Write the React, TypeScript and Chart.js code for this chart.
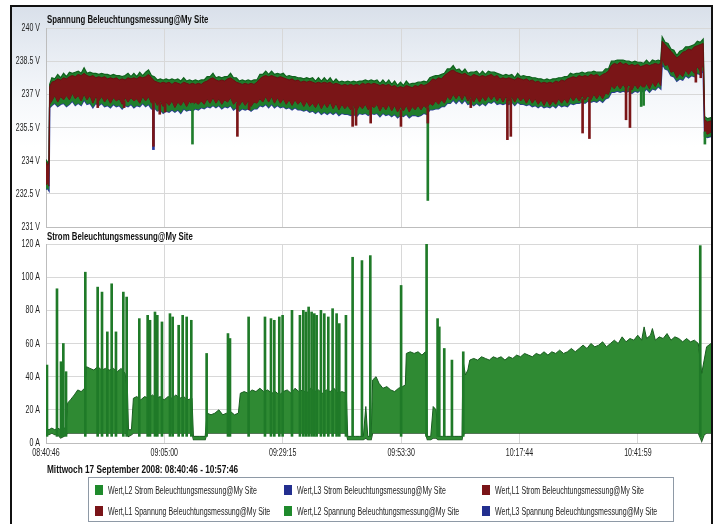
import React, { useEffect, useRef } from "react";
import { Chart, registerables } from "chart.js";

Chart.register(...registerables);

const FONT = "'Liberation Sans', Arial, sans-serif";
const TICK_SQUEEZE = 0.64;
const TICK_SIZE = 11;

// ---- axes ----
const totalMinutes = 136.2; // 08:40:46 .. right edge
const xTickMinutes = [0, 24.233, 48.483, 72.733, 96.967, 121.217];
const xTickLabels = ["08:40:46", "09:05:00", "09:29:15", "09:53:30", "10:17:44", "10:41:59"];
const voltTickValues = [231, 232.5, 234, 235.5, 237, 238.5, 240];
const ampTickValues = [0, 20, 40, 60, 80, 100, 120];

// ---- voltage (V), minutes since 08:40:46 ----
const voltMinutes = [
  0.0, 0.3, 0.6, 0.75, 1.2, 1.8, 2.4, 3.0, 3.6, 4.2,
  4.8, 5.4, 6.0, 6.6, 7.2, 7.8, 8.4, 9.0, 9.6, 10.2,
  10.8, 11.4, 12.0, 12.6, 13.2, 13.8, 14.4, 15.0, 15.6, 16.2,
  16.8, 17.4, 18.0, 18.6, 19.2, 19.8, 20.4, 21.0, 21.6, 22.2,
  22.8, 23.4, 24.0, 24.6, 25.2, 25.8, 26.4, 27.0, 27.6, 28.2,
  28.8, 29.4, 30.0, 30.6, 31.2, 31.8, 32.4, 33.0, 33.6, 34.2,
  34.8, 35.4, 36.0, 36.6, 37.2, 37.8, 38.4, 39.0, 39.6, 40.2,
  40.8, 41.4, 42.0, 42.6, 43.2, 43.8, 44.4, 45.0, 45.6, 46.2,
  46.8, 47.4, 48.0, 48.6, 49.2, 49.8, 50.4, 51.0, 51.6, 52.2,
  52.8, 53.4, 54.0, 54.6, 55.2, 55.8, 56.4, 57.0, 57.6, 58.2,
  58.8, 59.4, 60.0, 60.6, 61.2, 61.8, 62.4, 63.0, 63.6, 64.2,
  64.8, 65.4, 66.0, 66.6, 67.2, 67.8, 68.4, 69.0, 69.6, 70.2,
  70.8, 71.4, 72.0, 72.6, 73.2, 73.8, 74.4, 75.0, 75.6, 76.2,
  76.8, 77.4, 78.0, 78.6, 79.2, 79.8, 80.4, 81.0, 81.6, 82.2,
  82.8, 83.4, 84.0, 84.6, 85.2, 85.8, 86.4, 87.0, 87.6, 88.2,
  88.8, 89.4, 90.0, 90.6, 91.2, 91.8, 92.4, 93.0, 93.6, 94.2,
  94.8, 95.4, 96.0, 96.6, 97.2, 97.8, 98.4, 99.0, 99.6, 100.2,
  100.8, 101.4, 102.0, 102.6, 103.2, 103.8, 104.4, 105.0, 105.6, 106.2,
  106.8, 107.4, 108.0, 108.6, 109.2, 109.8, 110.4, 111.0, 111.6, 112.2,
  112.8, 113.4, 114.0, 114.6, 115.2, 115.8, 116.4, 117.0, 117.6, 118.2,
  118.8, 119.4, 120.0, 120.6, 121.2, 121.8, 122.4, 123.0, 123.6, 124.2,
  124.8, 125.4, 125.9, 126.2, 126.8, 127.4, 128.0, 128.6, 129.2, 129.8,
  130.4, 131.0, 131.6, 132.2, 132.8, 133.4, 134.0, 134.6, 134.9, 135.5,
  136.2,
];
const voltL2Max = [
  234.05, 233.9, 234.0, 237.45, 237.75, 237.7, 237.9, 237.75, 237.95, 237.8,
  238.0, 237.95, 238.0, 238.05, 237.95, 238.2, 237.95, 238.0, 237.95, 237.95,
  237.9, 237.95, 237.9, 237.9, 237.85, 237.9, 237.85, 237.85, 237.8, 237.85,
  237.95, 237.8, 237.95, 237.8, 238.0, 237.85, 238.0, 238.1, 237.85, 237.8,
  237.65, 237.7, 237.65, 237.7, 237.65, 237.7, 237.65, 237.7, 237.6, 237.75,
  237.6, 237.65, 237.6, 237.65, 237.6, 237.65, 237.65, 237.8, 237.8, 237.95,
  237.75, 237.8, 237.75, 237.8, 237.8, 237.95, 237.75, 237.75, 237.6, 237.65,
  237.6, 237.65, 237.6, 237.65, 237.65, 237.9, 237.9, 238.05, 237.9, 238.05,
  237.9, 237.95, 237.9, 237.95, 237.8, 237.85, 237.8, 237.8, 237.75, 237.75,
  237.7, 237.75, 237.7, 237.75, 237.6, 237.75, 237.6, 237.75, 237.6, 237.75,
  237.55, 237.7, 237.55, 237.6, 237.55, 237.6, 237.55, 237.6, 237.55, 237.6,
  237.6, 237.65, 237.6, 237.65, 237.6, 237.65, 237.5, 237.65, 237.5, 237.65,
  237.45, 237.6, 237.4, 237.55, 237.4, 237.6, 237.45, 237.5, 237.5, 237.55,
  237.55, 237.6, 237.55, 237.75, 237.8, 237.85, 237.85, 237.9, 237.95, 238.15,
  238.15, 238.3, 238.1, 238.15, 238.0, 238.15, 237.95, 238.0, 238.0, 238.05,
  237.9, 238.05, 237.9, 238.05, 238.0, 238.0, 237.95, 237.9, 237.85, 237.9,
  237.85, 237.9, 237.75, 237.95, 237.8, 237.85, 237.8, 237.8, 237.75, 237.75,
  237.7, 237.7, 237.65, 237.7, 237.65, 237.7, 237.7, 237.75, 237.75, 237.8,
  237.8, 237.95, 237.9, 237.95, 237.95, 238.0, 237.95, 238.0, 238.0, 238.05,
  238.0, 238.0, 238.0, 238.15, 238.15, 238.5, 238.5, 238.55, 238.55, 238.55,
  238.5, 238.5, 238.45, 238.5, 238.45, 238.45, 238.4, 238.55, 238.4, 238.55,
  238.5, 238.55, 238.5, 239.6, 239.35, 239.3, 239.05, 239.0, 238.75, 238.95,
  239.0, 239.15, 239.15, 239.2, 239.25, 239.4, 239.35, 239.5, 236.0, 235.9,
  235.95,
];
const voltL1Max = [
  233.95, 233.8, 233.9, 237.35, 237.55, 237.6, 237.7, 237.65, 237.75, 237.7,
  237.8, 237.85, 237.8, 237.9, 237.85, 237.95, 237.85, 237.8, 237.85, 237.75,
  237.8, 237.75, 237.8, 237.7, 237.75, 237.7, 237.75, 237.65, 237.7, 237.65,
  237.75, 237.7, 237.75, 237.7, 237.8, 237.75, 237.8, 237.9, 237.75, 237.6,
  237.55, 237.5, 237.55, 237.5, 237.55, 237.45, 237.55, 237.5, 237.45, 237.55,
  237.5, 237.45, 237.5, 237.45, 237.5, 237.45, 237.55, 237.6, 237.7, 237.75,
  237.65, 237.6, 237.65, 237.6, 237.7, 237.75, 237.65, 237.55, 237.5, 237.45,
  237.5, 237.45, 237.5, 237.45, 237.55, 237.7, 237.8, 237.85, 237.8, 237.85,
  237.8, 237.75, 237.8, 237.75, 237.7, 237.65, 237.7, 237.6, 237.65, 237.55,
  237.6, 237.55, 237.6, 237.55, 237.5, 237.55, 237.5, 237.55, 237.5, 237.55,
  237.45, 237.5, 237.45, 237.4, 237.45, 237.4, 237.45, 237.4, 237.45, 237.4,
  237.5, 237.45, 237.5, 237.45, 237.5, 237.45, 237.4, 237.45, 237.4, 237.45,
  237.35, 237.4, 237.3, 237.35, 237.3, 237.4, 237.35, 237.3, 237.4, 237.35,
  237.45, 237.4, 237.45, 237.55, 237.7, 237.65, 237.75, 237.7, 237.85, 237.95,
  238.05, 238.1, 238.0, 237.95, 237.9, 237.95, 237.85, 237.8, 237.9, 237.85,
  237.8, 237.85, 237.8, 237.85, 237.9, 237.8, 237.85, 237.7, 237.75, 237.7,
  237.75, 237.7, 237.65, 237.75, 237.7, 237.65, 237.7, 237.6, 237.65, 237.55,
  237.6, 237.5, 237.55, 237.5, 237.55, 237.5, 237.6, 237.55, 237.65, 237.6,
  237.7, 237.75, 237.8, 237.75, 237.85, 237.8, 237.85, 237.8, 237.9, 237.85,
  237.9, 237.8, 237.9, 237.95, 238.05, 238.3, 238.4, 238.35, 238.45, 238.35,
  238.4, 238.3, 238.35, 238.3, 238.35, 238.25, 238.3, 238.35, 238.3, 238.35,
  238.4, 238.35, 238.4, 239.4, 239.25, 239.1, 238.95, 238.8, 238.65, 238.75,
  238.9, 238.95, 239.05, 239.0, 239.15, 239.2, 239.25, 239.3, 235.85, 235.75,
  235.8,
];
const voltL1Min = [
  232.9, 233.0, 232.85, 236.55, 236.7, 236.95, 236.65, 236.9, 236.75, 236.95,
  236.75, 237.05, 236.8, 236.95, 236.7, 237.0, 236.75, 236.95, 236.6, 236.9,
  236.7, 236.9, 236.65, 236.85, 236.6, 236.85, 236.7, 236.8, 236.55, 236.85,
  236.65, 236.85, 236.7, 236.8, 236.6, 236.9, 236.7, 236.9, 236.6, 236.75,
  236.5, 236.7, 236.45, 236.65, 236.5, 236.7, 236.4, 236.65, 236.5, 236.7,
  236.45, 236.7, 236.5, 236.65, 236.55, 236.7, 236.55, 236.8, 236.6, 236.85,
  236.6, 236.8, 236.55, 236.75, 236.65, 236.85, 236.55, 236.7, 236.5, 236.7,
  236.5, 236.7, 236.45, 236.65, 236.6, 236.8, 236.65, 236.9, 236.65, 236.9,
  236.6, 236.85, 236.6, 236.8, 236.55, 236.75, 236.5, 236.75, 236.55, 236.7,
  236.45, 236.7, 236.45, 236.6, 236.4, 236.65, 236.35, 236.6, 236.4, 236.65,
  236.35, 236.6, 236.3, 236.55, 236.35, 236.5, 236.3, 236.5, 236.25, 236.5,
  236.35, 236.55, 236.3, 236.5, 236.4, 236.55, 236.25, 236.5, 236.3, 236.55,
  236.25, 236.5, 236.2, 236.45, 236.25, 236.5, 236.2, 236.45, 236.3, 236.5,
  236.3, 236.5, 236.35, 236.6, 236.5, 236.7, 236.55, 236.75, 236.6, 236.9,
  236.75, 237.0, 236.8, 237.0, 236.75, 237.0, 236.7, 236.9, 236.65, 236.9,
  236.65, 236.9, 236.7, 236.95, 236.75, 236.95, 236.7, 236.9, 236.65, 236.9,
  236.7, 236.9, 236.65, 236.9, 236.7, 236.85, 236.6, 236.85, 236.6, 236.8,
  236.55, 236.75, 236.5, 236.75, 236.5, 236.7, 236.55, 236.8, 236.6, 236.8,
  236.6, 236.9, 236.7, 236.9, 236.7, 236.95, 236.75, 236.95, 236.75, 237.0,
  236.8, 237.0, 236.8, 237.05, 237.0, 237.4, 237.25, 237.45, 237.25, 237.45,
  237.25, 237.45, 237.2, 237.45, 237.25, 237.45, 237.25, 237.5, 237.25, 237.55,
  237.35, 237.6, 237.4, 238.6, 238.3, 238.35, 238.0, 238.05, 237.75, 237.95,
  237.8, 238.1, 237.9, 238.1, 237.95, 238.25, 238.05, 238.35, 235.3, 235.2,
  235.3,
];
const voltL3Min = [
  232.7, 232.75, 232.65, 236.4, 236.5, 236.6, 236.45, 236.55, 236.6, 236.45,
  236.55, 236.7, 236.5, 236.6, 236.5, 236.75, 236.55, 236.6, 236.4, 236.6,
  236.5, 236.6, 236.45, 236.5, 236.4, 236.55, 236.45, 236.5, 236.35, 236.5,
  236.45, 236.55, 236.4, 236.5, 236.45, 236.6, 236.45, 236.55, 236.35, 236.4,
  236.25, 236.3, 236.15, 236.25, 236.2, 236.3, 236.2, 236.3, 236.15, 236.35,
  236.25, 236.3, 236.25, 236.35, 236.3, 236.4, 236.35, 236.45, 236.4, 236.5,
  236.4, 236.5, 236.35, 236.45, 236.4, 236.5, 236.3, 236.4, 236.25, 236.35,
  236.3, 236.35, 236.25, 236.35, 236.35, 236.5, 236.45, 236.55, 236.4, 236.55,
  236.4, 236.5, 236.4, 236.45, 236.35, 236.4, 236.3, 236.4, 236.3, 236.3,
  236.25, 236.3, 236.2, 236.25, 236.15, 236.25, 236.1, 236.2, 236.1, 236.2,
  236.1, 236.2, 236.05, 236.15, 236.1, 236.1, 236.05, 236.1, 236.0, 236.15,
  236.1, 236.15, 236.05, 236.15, 236.1, 236.15, 236.0, 236.15, 236.05, 236.1,
  236.0, 236.1, 235.95, 236.05, 236.0, 236.1, 235.95, 236.05, 236.05, 236.0,
  236.05, 236.15, 236.1, 236.3, 236.3, 236.35, 236.35, 236.45, 236.45, 236.6,
  236.6, 236.75, 236.6, 236.75, 236.6, 236.75, 236.55, 236.6, 236.5, 236.6,
  236.5, 236.6, 236.5, 236.65, 236.6, 236.7, 236.55, 236.6, 236.55, 236.6,
  236.55, 236.65, 236.5, 236.65, 236.55, 236.55, 236.5, 236.55, 236.45, 236.5,
  236.4, 236.5, 236.4, 236.45, 236.4, 236.5, 236.4, 236.55, 236.45, 236.5,
  236.45, 236.6, 236.55, 236.6, 236.6, 236.65, 236.6, 236.7, 236.65, 236.7,
  236.65, 236.75, 236.65, 236.8, 236.85, 237.1, 237.1, 237.15, 237.1, 237.15,
  237.1, 237.15, 237.05, 237.15, 237.1, 237.2, 237.1, 237.25, 237.1, 237.25,
  237.2, 237.35, 237.25, 238.4, 238.15, 238.1, 237.85, 237.8, 237.6, 237.7,
  237.65, 237.85, 237.75, 237.85, 237.8, 237.95, 237.9, 238.1, 235.1, 235.05,
  235.1,
];

// short voltage dips: time, lowest value, band value, phase (1/2/3)
const voltDipMinutes = [10.6, 16.0, 22.0, 22.0, 23.3, 24.4, 30.0, 39.2, 41.6, 62.8, 63.5, 66.5, 72.7, 78.2, 78.2, 87.0, 94.5, 95.2, 109.9, 111.3, 118.8, 119.6, 121.9, 122.4, 133.1, 134.1, 134.95];
const voltDipLow = [236.4, 236.4, 234.5, 234.65, 236.1, 236.2, 234.75, 235.1, 236.3, 235.55, 235.6, 235.7, 235.55, 232.2, 235.7, 236.4, 234.95, 235.1, 235.25, 235.0, 235.85, 235.5, 236.45, 236.5, 237.55, 237.75, 234.75];
const voltDipHigh = [236.8, 236.7, 236.5, 236.7, 236.6, 236.6, 236.6, 236.6, 236.6, 236.4, 236.4, 236.5, 236.3, 236.4, 236.4, 236.8, 236.8, 236.8, 236.8, 236.8, 237.3, 237.3, 237.3, 237.3, 238.1, 238.2, 235.3];
const voltDipPhase = [1, 1, 3, 1, 1, 1, 2, 1, 1, 1, 1, 1, 1, 2, 1, 1, 1, 1, 1, 1, 1, 1, 2, 2, 1, 1, 2];

// ---- current (A) ----
const ampMinutes = [
  0.0, 0.6, 1.2, 1.8, 2.4, 3.0, 3.6, 4.1, 4.4, 5.0,
  5.8, 6.5, 7.2, 7.9, 8.3, 9.0, 9.8, 10.6, 11.4, 12.2,
  13.0, 13.8, 14.6, 15.4, 16.2, 16.7, 16.9, 17.5, 17.9, 18.6,
  19.4, 20.2, 21.0, 21.8, 22.6, 23.4, 24.2, 25.0, 25.8, 26.6,
  27.4, 28.2, 29.0, 29.9, 30.2, 31.5, 32.6, 33.0, 33.8, 34.6,
  35.4, 36.2, 37.0, 37.8, 38.6, 39.4, 39.8, 40.6, 41.4, 42.2,
  43.0, 43.8, 44.6, 45.4, 46.2, 47.0, 47.8, 48.6, 49.4, 50.2,
  51.0, 51.8, 52.6, 53.4, 54.2, 55.0, 55.8, 56.6, 57.4, 58.2,
  59.0, 59.8, 60.6, 61.5, 61.8, 62.6, 63.4, 64.2, 65.0, 65.5,
  65.9, 66.6, 66.9, 67.6, 68.2, 69.0, 69.8, 70.6, 71.4, 72.2,
  73.0, 73.6, 73.8, 74.6, 75.4, 76.2, 77.0, 77.7, 78.1, 78.8,
  79.3, 79.9, 80.3, 81.2, 82.0, 82.8, 83.6, 84.4, 85.2, 85.4,
  85.9, 86.4, 86.8, 87.6, 88.4, 89.2, 90.0, 90.8, 91.6, 92.4,
  93.2, 94.0, 94.8, 95.6, 96.4, 97.2, 98.0, 98.8, 99.6, 100.4,
  101.2, 102.0, 102.8, 103.6, 104.4, 105.2, 106.0, 106.8, 107.6, 108.4,
  109.2, 110.0, 110.8, 111.6, 112.4, 113.2, 114.0, 114.8, 115.6, 116.4,
  117.2, 118.0, 118.8, 119.6, 120.4, 121.2, 122.0, 122.5, 123.0, 123.8,
  124.2, 124.8, 125.6, 126.4, 127.2, 128.0, 128.8, 129.6, 130.4, 131.2,
  132.0, 132.8, 133.6, 134.3, 134.8, 135.3, 136.2,
];
const ampL2Max = [
  9, 8, 9, 8, 9, 8, 9, 9, 24, 26,
  29, 32, 31, 33, 46, 45, 44, 46, 44, 45,
  44, 45, 43, 45, 42, 30, 8, 8, 27, 28,
  26, 28, 27, 29, 27, 28, 26, 28, 27, 29,
  27, 28, 26, 27, 4, 4, 4, 18, 17, 18,
  20, 17, 18, 19, 17, 18, 30, 31, 30, 32,
  31, 33, 31, 32, 30, 31, 29, 31, 32, 30,
  33, 31, 32, 30, 33, 31, 32, 30, 32, 31,
  33, 30, 31, 30, 4, 4, 4, 4, 4, 22,
  4, 4, 38, 40, 36, 33, 34, 32, 31, 33,
  34, 35, 54, 55, 54, 55, 53, 55, 4, 4,
  22, 20, 4, 4, 4, 4, 4, 4, 4, 50,
  41, 44, 50, 51, 50, 52, 51, 50, 52, 51,
  52, 50, 52, 51, 53, 52, 54, 53, 52, 54,
  53, 55, 53, 55, 54, 56, 54, 55, 57, 55,
  57, 59, 57, 60, 58, 59, 61, 58, 60, 62,
  60, 64, 61, 63, 62, 65, 62, 70, 63, 65,
  69, 62, 64, 63, 66, 62, 64, 63, 61, 63,
  61, 62, 60, 42, 50, 58, 60,
];
const ampL2Min = [
  5, 5, 6, 5, 5, 3, 4, 5, 6, 6,
  6, 6, 6, 6, 6, 6, 6, 6, 6, 6,
  6, 6, 6, 6, 6, 5, 4, 5, 6, 6,
  6, 6, 6, 6, 6, 6, 6, 6, 6, 6,
  6, 6, 6, 6, 2, 2, 2, 6, 6, 6,
  6, 6, 6, 6, 6, 6, 6, 6, 6, 6,
  6, 6, 6, 6, 6, 6, 6, 6, 6, 6,
  6, 6, 6, 6, 6, 6, 6, 6, 6, 6,
  6, 6, 6, 6, 2, 2, 2, 2, 2, 3,
  2, 2, 6, 6, 6, 6, 6, 6, 6, 6,
  6, 6, 6, 6, 6, 6, 6, 6, 2, 2,
  3, 3, 2, 2, 2, 2, 2, 2, 2, 5,
  6, 6, 6, 6, 6, 6, 6, 6, 6, 6,
  6, 6, 6, 6, 6, 6, 6, 6, 6, 6,
  6, 6, 6, 6, 6, 6, 6, 6, 6, 6,
  6, 6, 6, 6, 6, 6, 6, 6, 6, 6,
  6, 6, 6, 6, 6, 6, 6, 6, 6, 6,
  6, 6, 6, 6, 6, 6, 6, 6, 6, 6,
  6, 6, 6, 1, 5, 6, 6,
];

// short current peaks: time and peak value
const ampSpikeMinutes = [
  0.2, 2.25, 3.07, 3.55, 4.1, 8.05, 10.58, 11.47, 12.56, 13.45,
  14.33, 15.84, 16.52, 19.11, 20.82, 21.3, 22.32, 22.8, 23.75, 25.39,
  25.94, 27.17, 27.99, 28.81, 29.76, 32.9, 37.27, 37.68, 41.5, 44.85,
  46.08, 46.76, 47.78, 48.46, 50.38, 52.01, 52.7, 53.24, 53.79, 54.4,
  54.95, 55.43, 56.31, 57.0, 57.82, 58.7, 59.52, 60.07, 61.43, 62.8,
  64.71, 66.42, 72.73, 77.95, 80.2, 80.55, 81.57, 83.14, 85.46, 134.0,
];
const ampSpikePeak = [
  47, 93, 49, 60, 43, 103, 94, 91, 67, 96,
  67, 91, 88, 75, 77, 74, 79, 77, 73, 78,
  76, 71, 77, 76, 74, 54, 66, 63, 76, 76,
  75, 74, 76, 77, 80, 77, 80, 79, 82, 79,
  78, 77, 80, 78, 76, 81, 78, 72, 77, 112,
  110, 113, 95, 120, 75, 70, 57, 50, 55, 119,
];
const ampSpikeBase = 4;

// ---- legend ----
const legendLabels = [
  "Wert,L2 Strom Beleuchtungsmessung@My Site",
  "Wert,L3 Strom Beleuchtungsmessung@My Site",
  "Wert,L1 Strom Beleuchtungsmessung@My Site",
  "Wert,L1 Spannung Beleuchtungsmessung@My Site",
  "Wert,L2 Spannung Beleuchtungsmessung@My Site",
  "Wert,L3 Spannung Beleuchtungsmessung@My Site",
];
const legendColors = ["#1f8a2c", "#232f8f", "#7a1418", "#7a1418", "#1f8a2c", "#232f8f"];

const phaseColor: Record<number, string> = { 1: "#7a1517", 2: "#1f7d2c", 3: "#27379a" };

function pts(xs: number[], ys: number[]) {
  return xs.map((x, i) => ({ x, y: ys[i] }));
}

// draws the axis labels in a condensed face (squeezed horizontally)
const condensedTicks = {
  id: "condensedTicks",
  afterDraw(chart: any, _args: any, opts: any) {
    const ctx = chart.ctx as CanvasRenderingContext2D;
    const ys = chart.scales.y;
    const xs = chart.scales.x;
    ctx.save();
    ctx.fillStyle = "#222";
    ctx.font = `${TICK_SIZE}px ${FONT}`;
    ctx.textAlign = "right";
    ctx.textBaseline = "middle";
    ys.ticks.forEach((t: any) => {
      const py = ys.getPixelForValue(t.value);
      ctx.save();
      ctx.translate(ys.right - 6, py);
      ctx.scale(TICK_SQUEEZE, 1);
      ctx.fillText(`${t.value} ${opts.unit}`, 0, 0);
      ctx.restore();
    });
    if (opts.xLabels) {
      ctx.textAlign = "center";
      ctx.textBaseline = "top";
      xs.ticks.forEach((t: any, i: number) => {
        const px = xs.getPixelForValue(t.value);
        ctx.save();
        ctx.translate(px, xs.top + 4);
        ctx.scale(TICK_SQUEEZE, 1);
        ctx.fillText(xTickLabels[i], 0, 0);
        ctx.restore();
      });
    }
    ctx.restore();
  },
};

function xScale(showLabels: boolean) {
  return {
    type: "linear" as const,
    min: 0,
    max: totalMinutes,
    offset: false,
    afterBuildTicks: (s: any) => {
      s.ticks = xTickMinutes.map((v) => ({ value: v }));
    },
    afterFit: (s: any) => {
      s.height = showLabels ? 19 : 0;
    },
    ticks: { display: false },
    grid: { color: "#d8d8d8", drawTicks: false, offset: false },
    border: { color: "#bdbdbd" },
  };
}

function yScale(min: number, max: number, values: number[]) {
  return {
    type: "linear" as const,
    min,
    max,
    afterBuildTicks: (s: any) => {
      s.ticks = values.map((v) => ({ value: v }));
    },
    afterFit: (s: any) => {
      s.width = 34;
    },
    ticks: { display: false },
    grid: { color: "#d8d8d8", drawTicks: false },
    border: { color: "#bdbdbd" },
  };
}

const baseOptions = {
  animation: false as const,
  responsive: false,
  maintainAspectRatio: false,
  events: [] as any[],
  elements: { point: { radius: 0 }, line: { tension: 0 } },
};

export default function App() {
  const topRef = useRef<HTMLCanvasElement>(null);
  const botRef = useRef<HTMLCanvasElement>(null);

  useEffect(() => {
    const top = new Chart(topRef.current!, {
      type: "line",
      plugins: [condensedTicks],
      data: {
        datasets: [
          {
            type: "bar",
            label: "Spannung dips",
            data: voltDipMinutes.map((t, i) => ({ x: t, y: [voltDipLow[i], voltDipHigh[i]] })) as any,
            backgroundColor: voltDipPhase.map((p) => phaseColor[p]),
            barThickness: 2,
            borderWidth: 0,
            order: 0,
          } as any,
          {
            label: "Wert,L1 Spannung",
            data: pts(voltMinutes, voltL1Max),
            borderColor: "#6a0f12",
            backgroundColor: "#7a1517",
            borderWidth: 1,
            fill: { target: 2 },
            order: 1,
          },
          {
            label: "Wert,L1 Spannung min",
            data: pts(voltMinutes, voltL1Min),
            borderColor: "#6a0f12",
            borderWidth: 1,
            fill: false,
            order: 2,
          },
          {
            label: "Wert,L2 Spannung",
            data: pts(voltMinutes, voltL2Max),
            borderColor: "#0f621d",
            backgroundColor: "#1f7d2c",
            borderWidth: 1.2,
            fill: { target: 4 },
            order: 3,
          },
          {
            label: "Wert,L3 Spannung",
            data: pts(voltMinutes, voltL3Min),
            borderColor: "#2a3a98",
            borderWidth: 1.6,
            fill: false,
            order: 4,
          },
        ],
      },
      options: {
        ...baseOptions,
        layout: { padding: { top: 10, bottom: 8, left: 0, right: 0 } },
        plugins: {
          legend: { display: false },
          tooltip: { enabled: false },
          title: { display: false },
          condensedTicks: { unit: "V", xLabels: false },
        },
        scales: {
          x: xScale(false),
          y: yScale(231, 240, voltTickValues),
        },
      } as any,
    });

    const bot = new Chart(botRef.current!, {
      type: "line",
      plugins: [condensedTicks],
      data: {
        datasets: [
          {
            type: "bar",
            label: "Strom peaks",
            data: ampSpikeMinutes.map((t, i) => ({ x: t, y: [ampSpikeBase, ampSpikePeak[i]] })) as any,
            backgroundColor: "#1f7a28",
            barThickness: 2,
            borderWidth: 0,
            order: 0,
          } as any,
          {
            label: "Wert,L2 Strom",
            data: pts(ampMinutes, ampL2Max),
            borderColor: "#175c1e",
            backgroundColor: "#2f8a33",
            borderWidth: 1,
            fill: { target: 2 },
            order: 1,
          },
          {
            label: "Wert,L2 Strom min",
            data: pts(ampMinutes, ampL2Min),
            borderColor: "#1b4a1e",
            borderWidth: 1.2,
            fill: false,
            order: 2,
          },
        ],
      },
      options: {
        ...baseOptions,
        layout: { padding: { top: 10, bottom: 0, left: 0, right: 0 } },
        plugins: {
          legend: { display: false },
          tooltip: { enabled: false },
          title: { display: false },
          condensedTicks: { unit: "A", xLabels: true },
        },
        scales: {
          x: xScale(true),
          y: yScale(0, 120, ampTickValues),
        },
      } as any,
    });

    return () => {
      top.destroy();
      bot.destroy();
    };
  }, []);

  const squeezed = (scale: number): React.CSSProperties => ({
    position: "absolute",
    fontFamily: FONT,
    color: "#111",
    whiteSpace: "nowrap",
    transform: `scaleX(${scale})`,
    transformOrigin: "left center",
  });

  return (
    <div style={{ position: "absolute", left: 0, top: 0, width: 720, height: 524, overflow: "hidden", background: "#fff" }}>
      {/* top panel background */}
      <div
        style={{
          position: "absolute",
          left: 12,
          top: 7,
          width: 699,
          height: 221,
          background: "linear-gradient(to bottom, #d9e0ea 0px, #e6ebf2 40px, #f6f8fb 95px, #ffffff 140px)",
        }}
      />
      <canvas ref={topRef} width={699} height={217} style={{ position: "absolute", left: 12, top: 18, width: 699, height: 217 }} />
      <canvas ref={botRef} width={699} height={228} style={{ position: "absolute", left: 12, top: 234, width: 699, height: 228 }} />

      <div style={{ ...squeezed(0.68), left: 47, top: 13, fontSize: 11.5, fontWeight: 700, lineHeight: "13px" }}>
        Spannung Beleuchtungsmessung@My Site
      </div>
      <div style={{ ...squeezed(0.68), left: 47, top: 230, fontSize: 11.5, fontWeight: 700, lineHeight: "13px" }}>
        Strom Beleuchtungsmessung@My Site
      </div>
      <div style={{ ...squeezed(0.75), left: 47, top: 463, fontSize: 11, fontWeight: 700, lineHeight: "13px" }}>
        Mittwoch 17 September 2008: 08:40:46 - 10:57:46
      </div>

      {/* legend */}
      <div
        style={{
          position: "absolute",
          left: 88,
          top: 477,
          width: 584,
          height: 43,
          border: "1px solid #8e99a6",
          background: "#fff",
        }}
      >
        {legendLabels.map((lab, i) => {
          const col = i % 3;
          const row = Math.floor(i / 3);
          const colX = [6, 195, 393][col];
          const rowY = [7, 28][row];
          return (
            <div key={lab} style={{ position: "absolute", left: colX, top: rowY, height: 11 }}>
              <div style={{ position: "absolute", left: 0, top: 0, width: 8, height: 10, background: legendColors[i] }} />
              <div style={{ ...squeezed(0.67), left: 13, top: -1, fontSize: 10.5, lineHeight: "12px", color: "#222" }}>{lab}</div>
            </div>
          );
        })}
      </div>

      {/* outer frame */}
      <div
        style={{
          position: "absolute",
          left: 10,
          top: 5,
          width: 699,
          height: 540,
          borderLeft: "2px solid #111",
          borderTop: "2px solid #111",
          borderRight: "2px solid #111",
          pointerEvents: "none",
        }}
      />
    </div>
  );
}
